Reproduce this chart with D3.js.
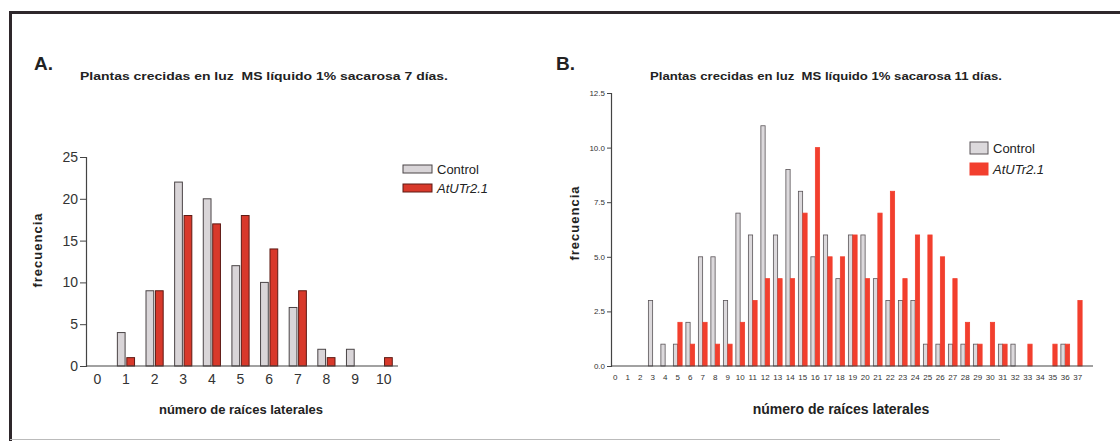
<!DOCTYPE html>
<html lang="es">
<head>
    <meta charset="UTF-8">
    <title>Raíces laterales - histogramas</title>
    <script src="https://d3js.org/d3.v7.min.js"></script>
    <style>
        body {
            margin: 0;
            background: #ffffff;
            font-family: Arial, "Liberation Sans", sans-serif;
        }
        svg text {
            font-family: Arial, "Liberation Sans", sans-serif;
            fill: #222;
        }
        .axis path, .axis line {
            stroke: #444;
        }
        .axis text {
            fill: #333;
        }
    </style>
</head>
<body>
<div id="chart"></div>
<script>
    // Panel A: 7 días
    const catsA = ["0", "1", "2", "3", "4", "5", "6", "7", "8", "9", "10"];
    const controlA = [0, 4, 9, 22, 20, 12, 10, 7, 2, 2, 0];
    const mutantA  = [0, 1, 9, 18, 17, 18, 14, 9, 1, 0, 1];
    const yTicksA = [0, 5, 10, 15, 20, 25];

    // Panel B: 11 días
    const catsB = ["0", "1", "2", "3", "4", "5", "6", "7", "8", "9", "10", "11", "12", "13", "14", "15", "16", "17", "18",
        "19", "20", "21", "22", "23", "24", "25", "26", "27", "28", "29", "30", "31", "32", "33", "34", "35", "36", "37"];
    const controlB = [0, 0, 0, 3, 1, 1, 2, 5, 5, 3, 7, 6, 11, 6, 9, 8, 5, 6, 4,
        6, 6, 4, 3, 3, 3, 1, 1, 1, 1, 1, 0, 1, 1, 0, 0, 0, 1, 0];
    const mutantB  = [0, 0, 0, 0, 0, 2, 1, 2, 1, 1, 2, 3, 4, 4, 4, 7, 10, 5, 5,
        6, 4, 7, 8, 4, 6, 6, 5, 4, 2, 1, 2, 1, 0, 1, 0, 1, 1, 3];
    const yTicksB = [0, 2.5, 5, 7.5, 10, 12.5];

    const seriesNames = ["Control", "AtUTr2.1"];

    const svg = d3.select('#chart')
        .append('svg')
        .attr('width', 1120)
        .attr('height', 441);

    // frame
    svg.append('line').attr('x1', 10).attr('x2', 1120).attr('y1', 12.5).attr('y2', 12.5)
        .attr('stroke', '#2e272b').attr('stroke-width', 3);
    svg.append('line').attr('x1', 10.5).attr('x2', 10.5).attr('y1', 11).attr('y2', 441)
        .attr('stroke', '#2e272b').attr('stroke-width', 3);
    svg.append('line').attr('x1', 10).attr('x2', 1000).attr('y1', 439.5).attr('y2', 439.5)
        .attr('stroke', '#bbb').attr('stroke-width', 1);

    function drawPanel(cfg) {
        const g = svg.append('g');

        const x = d3.scaleBand()
            .domain(cfg.cats)
            .range(cfg.xRange)
            .paddingInner(cfg.groupPad)
            .paddingOuter(cfg.groupPad / 2);

        const xs = d3.scaleBand()
            .domain(seriesNames)
            .range([0, x.bandwidth()])
            .paddingInner(cfg.barPad);

        const y = d3.scaleLinear()
            .domain([0, cfg.yMax])
            .range(cfg.yRange);

        // panel letter and title
        g.append('text')
            .attr('x', cfg.letterX).attr('y', 70)
            .attr('font-size', 19).attr('font-weight', 'bold')
            .text(cfg.letter);

        g.append('text')
            .attr('x', cfg.titleX).attr('y', 80)
            .attr('font-size', 11).attr('font-weight', 'bold')
            .style('white-space', 'pre')
            .attr('textLength', cfg.titleW).attr('lengthAdjust', 'spacingAndGlyphs')
            .text(cfg.title);

        // bars
        const groups = g.selectAll('.grp')
            .data(cfg.cats.map((c, i) => ({cat: c, vals: [cfg.control[i], cfg.mutant[i]]})))
            .enter().append('g')
            .attr('class', 'grp')
            .attr('transform', d => `translate(${x(d.cat)},0)`);

        groups.selectAll('rect')
            .data(d => d.vals.map((v, k) => ({name: seriesNames[k], v: v})).filter(e => e.v > 0))
            .enter().append('rect')
            .attr('x', d => xs(d.name))
            .attr('width', xs.bandwidth())
            .attr('y', d => y(d.v))
            .attr('height', d => y(0) - y(d.v))
            .attr('fill', d => d.name === 'Control' ? cfg.ctrlFill : cfg.mutFill)
            .attr('stroke', d => d.name === 'Control' ? cfg.ctrlStroke : cfg.mutStroke)
            .attr('stroke-width', cfg.barStroke);

        // y axis
        const yAxis = g.append('g')
            .attr('class', 'axis')
            .attr('transform', `translate(${cfg.yAxisX},0)`)
            .call(d3.axisLeft(y).tickValues(cfg.yTicks).tickSize(cfg.yTickSize)
                .tickPadding(2).tickFormat(cfg.yFormat));
        yAxis.selectAll('text').attr('font-size', cfg.yFont);
        yAxis.select('.domain').attr('stroke-width', 1.2);

        // x axis
        const xAxis = g.append('g')
            .attr('class', 'axis')
            .attr('transform', `translate(0,${y(0)})`)
            .call(d3.axisBottom(x).tickSize(0).tickPadding(cfg.xPad));
        xAxis.select('.domain').remove();
        xAxis.selectAll('text').attr('font-size', cfg.xFont);
        g.append('line')
            .attr('x1', cfg.yAxisX).attr('x2', cfg.xAxisEnd)
            .attr('y1', y(0)).attr('y2', y(0))
            .attr('stroke', '#444').attr('stroke-width', 1.2);

        // axis titles
        g.append('text')
            .attr('transform', `translate(${cfg.yLabelX},${cfg.yLabelY}) rotate(-90)`)
            .attr('text-anchor', 'middle')
            .attr('font-size', 13).attr('font-weight', 'bold')
            .attr('letter-spacing', 1)
            .text('frecuencia');

        g.append('text')
            .attr('x', cfg.xLabelX).attr('y', cfg.xLabelY)
            .attr('text-anchor', 'middle')
            .attr('font-size', cfg.xLabelFont).attr('font-weight', 'bold')
            .text('número de raíces laterales');

        // legend
        const leg = g.selectAll('.leg')
            .data(seriesNames)
            .enter().append('g')
            .attr('class', 'leg')
            .attr('transform', (d, i) => `translate(${cfg.legX},${cfg.legY + i * cfg.legStep})`);
        leg.append('rect')
            .attr('width', cfg.legW).attr('height', cfg.legH)
            .attr('fill', d => d === 'Control' ? cfg.ctrlFill : cfg.mutFill)
            .attr('stroke', d => d === 'Control' ? cfg.ctrlStroke : cfg.mutStroke)
            .attr('stroke-width', 1);
        leg.append('text')
            .attr('x', cfg.legW + 5).attr('y', cfg.legH / 2 + 5)
            .attr('font-size', 13)
            .attr('font-style', d => d === 'Control' ? 'normal' : 'italic')
            .text(d => d);
    }

    drawPanel({
        letter: 'A.', letterX: 34,
        title: 'Plantas crecidas en luz  MS líquido 1% sacarosa 7 días.', titleX: 80, titleW: 368,
        cats: catsA, control: controlA, mutant: mutantA,
        xRange: [83, 398], groupPad: 0.4, barPad: 0.18,
        yMax: 25, yRange: [366, 157], yTicks: yTicksA, yFormat: d3.format('d'),
        yAxisX: 86, yTickSize: 6, yFont: 14, xFont: 14, xPad: 8, xAxisEnd: 398,
        ctrlFill: '#d9d5d8', ctrlStroke: '#4a4446',
        mutFill: '#d8392b', mutStroke: '#5e1a14', barStroke: 1,
        yLabelX: 42, yLabelY: 250,
        xLabelX: 241, xLabelY: 414, xLabelFont: 13,
        legX: 403, legY: 165, legStep: 19, legW: 29, legH: 8
    });

    drawPanel({
        letter: 'B.', letterX: 556,
        title: 'Plantas crecidas en luz  MS líquido 1% sacarosa 11 días.', titleX: 650, titleW: 352,
        cats: catsB, control: controlB, mutant: mutantB,
        xRange: [609, 1084], groupPad: 0.3, barPad: 0.05,
        yMax: 12.5, yRange: [366, 93], yTicks: yTicksB, yFormat: d3.format('.1f'),
        yAxisX: 611, yTickSize: 4, yFont: 8, xFont: 8, xPad: 8, xAxisEnd: 1093,
        ctrlFill: '#dcd9dc', ctrlStroke: '#5a5458',
        mutFill: '#f23f2e', mutStroke: '#f23f2e', barStroke: 0.8,
        yLabelX: 579, yLabelY: 223,
        xLabelX: 841, xLabelY: 414, xLabelFont: 14,
        legX: 970, legY: 142, legStep: 21, legW: 18, legH: 12
    });
</script>
</body>
</html>
